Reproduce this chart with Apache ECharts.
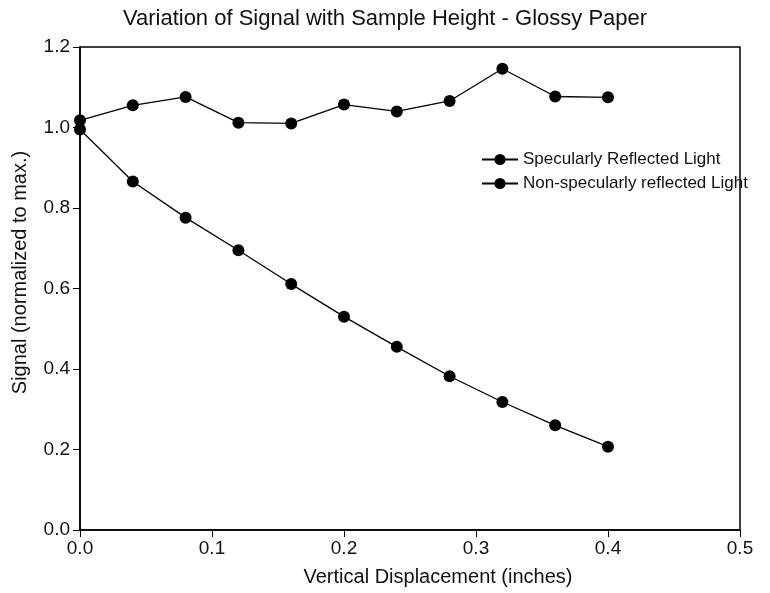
<!DOCTYPE html>
<html>
<head>
<meta charset="utf-8">
<script src="https://cdn.jsdelivr.net/npm/echarts@6/dist/echarts.min.js"></script>
<style>
  html, body { margin: 0; padding: 0; background: #fff; }
  #chart { width: 770px; height: 593px; }
</style>
</head>
<body>
<div id="chart"></div>
<script>
// vertical displacement (inches)
const displacement = [0.00, 0.04, 0.08, 0.12, 0.16, 0.20, 0.24, 0.28, 0.32, 0.36, 0.40];
const specular = [1.018, 1.055, 1.076, 1.012, 1.010, 1.057, 1.040, 1.066, 1.146, 1.077, 1.075];
const nonSpecular = [0.995, 0.866, 0.776, 0.695, 0.611, 0.530, 0.455, 0.382, 0.318, 0.260, 0.207];
const seriesNames = ['Specularly Reflected Light', 'Non-specularly reflected Light'];

const font = 'Liberation Sans, Arial, sans-serif';

function pairs(ys) {
    return displacement.map((x, i) => [x, ys[i]]);
}

document.addEventListener("DOMContentLoaded", function () {
    const chart = echarts.init(document.getElementById('chart'));
    const lineSeries = (name, ys) => ({
        name: name,
        type: 'line',
        data: pairs(ys),
        symbol: 'circle',
        symbolSize: 12,
        itemStyle: { color: '#000' },
        lineStyle: { color: '#000', width: 1.3 },
        emphasis: { disabled: true },
        animation: false
    });
    const option = {
        backgroundColor: '#fff',
        title: {
            text: 'Variation of Signal with Sample Height - Glossy Paper',
            left: 'center',
            top: 3,
            textStyle: { fontFamily: font, fontSize: 22, fontWeight: 'normal', color: '#111' }
        },
        legend: {
            data: seriesNames,
            orient: 'vertical',
            left: 476,
            top: 146,
            itemWidth: 36,
            itemHeight: 14,
            itemGap: 7,
            textStyle: { fontFamily: font, fontSize: 17, color: '#111' }
        },
        grid: {
            left: 80, right: 30, top: 47, bottom: 63,
            show: true, borderColor: '#000', borderWidth: 1.5
        },
        xAxis: {
            type: 'value',
            min: 0, max: 0.5, interval: 0.1,
            name: 'Vertical Displacement (inches)',
            nameLocation: 'middle',
            nameGap: 37,
            nameTextStyle: { fontFamily: font, fontSize: 20, color: '#111', padding: [0, 0, 0, 56] },
            axisLine: { lineStyle: { color: '#000', width: 1.5 } },
            axisTick: { inside: false, length: 7, lineStyle: { color: '#000' } },
            axisLabel: {
                fontFamily: font, fontSize: 19, color: '#111', margin: 9,
                formatter: v => v.toFixed(1)
            },
            splitLine: { show: false }
        },
        yAxis: {
            type: 'value',
            min: 0, max: 1.2, interval: 0.2,
            name: 'Signal (normalized to max.)',
            nameLocation: 'middle',
            nameGap: 50,
            nameTextStyle: { fontFamily: font, fontSize: 20, color: '#111', padding: [0, 0, 0, 32] },
            axisLine: { show: true, lineStyle: { color: '#000', width: 1.5 } },
            axisTick: { show: true, inside: false, length: 7, lineStyle: { color: '#000' } },
            axisLabel: {
                fontFamily: font, fontSize: 19, color: '#111', margin: 10,
                formatter: v => v.toFixed(1)
            },
            splitLine: { show: false }
        },
        series: [
            lineSeries(seriesNames[0], specular),
            lineSeries(seriesNames[1], nonSpecular)
        ]
    };
    chart.setOption(option);
    window.addEventListener('resize', () => chart.resize());
});
</script>
</body>
</html>
